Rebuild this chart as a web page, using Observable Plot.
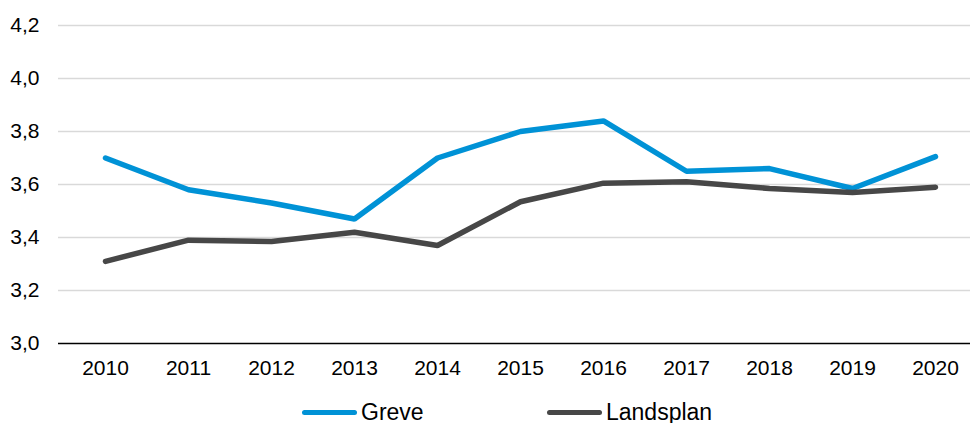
<!DOCTYPE html>
<html>
<head>
<meta charset="utf-8">
<script src="https://cdn.jsdelivr.net/npm/d3@7"></script>
<script src="https://cdn.jsdelivr.net/npm/@observablehq/plot@0.6"></script>
<style>
  body { margin: 0; background: #fff; font-family: "Liberation Sans", Arial, sans-serif; }
  #wrap { position: relative; width: 970px; height: 423px; overflow: hidden; }
  #legend { position: absolute; left: 0; top: 399px; width: 970px; height: 26px; font-size: 23px; color: #000; }
  .item { position: absolute; top: 0; display: flex; align-items: center; height: 26px; }
  .swatch { width: 55px; height: 5px; border-radius: 3px; margin-right: 4px; }
</style>
</head>
<body>
<div id="wrap">
  <div id="chart"></div>
  <div id="legend"></div>
</div>
<script>
const years = [2010, 2011, 2012, 2013, 2014, 2015, 2016, 2017, 2018, 2019, 2020];
const greve = [3.70, 3.58, 3.53, 3.47, 3.70, 3.80, 3.84, 3.65, 3.66, 3.585, 3.705];
const landsplan = [3.31, 3.39, 3.385, 3.42, 3.37, 3.535, 3.605, 3.61, 3.585, 3.57, 3.59];
const yTicks = [3.0, 3.2, 3.4, 3.6, 3.8, 4.0, 4.2];
const seriesNames = ["Greve", "Landsplan"];
const seriesColors = ["#0092D6", "#474747"];

const data = [];
years.forEach((yr, i) => {
  data.push({year: yr, value: greve[i], series: seriesNames[0]});
  data.push({year: yr, value: landsplan[i], series: seriesNames[1]});
});

const fmt = d => d.toFixed(1).replace(".", ",");

const chart = Plot.plot({
  width: 970,
  height: 392,
  marginLeft: 58,
  marginRight: 0,
  marginTop: 25,
  marginBottom: 49,
  style: { fontFamily: "'Liberation Sans', Arial, sans-serif", fontSize: "21px", color: "#000", background: "#fff" },
  x: { type: "point", domain: years, range: [100, 939], padding: 0, label: null },
  y: { domain: [3.0, 4.2], label: null },
  color: { domain: seriesNames, range: seriesColors },
  marks: [
    Plot.ruleY(yTicks.filter(t => t > 3.0), { stroke: "#D9D9D9", strokeWidth: 1.5 }),
    Plot.ruleY([3.0], { stroke: "#000", strokeWidth: 1.5 }),
    Plot.axisY({ ticks: yTicks, tickFormat: fmt, tickSize: 0, tickPadding: 19, fontSize: 21, label: null }),
    Plot.axisX({ ticks: years, tickFormat: d => String(d), tickSize: 0, tickPadding: 17, fontSize: 21, label: null }),
    Plot.line(data, { x: "year", y: "value", z: "series", stroke: "series", strokeWidth: 5.5, strokeLinejoin: "miter", strokeLinecap: "round" })
  ]
});
document.getElementById("chart").appendChild(chart);

const legend = document.getElementById("legend");
const legendX = [302, 547];
seriesNames.forEach((name, i) => {
  const item = document.createElement("div");
  item.className = "item";
  item.style.left = legendX[i] + "px";
  const sw = document.createElement("div");
  sw.className = "swatch";
  sw.style.background = seriesColors[i];
  const label = document.createElement("span");
  label.textContent = name;
  item.appendChild(sw);
  item.appendChild(label);
  legend.appendChild(item);
});
</script>
</body>
</html>
